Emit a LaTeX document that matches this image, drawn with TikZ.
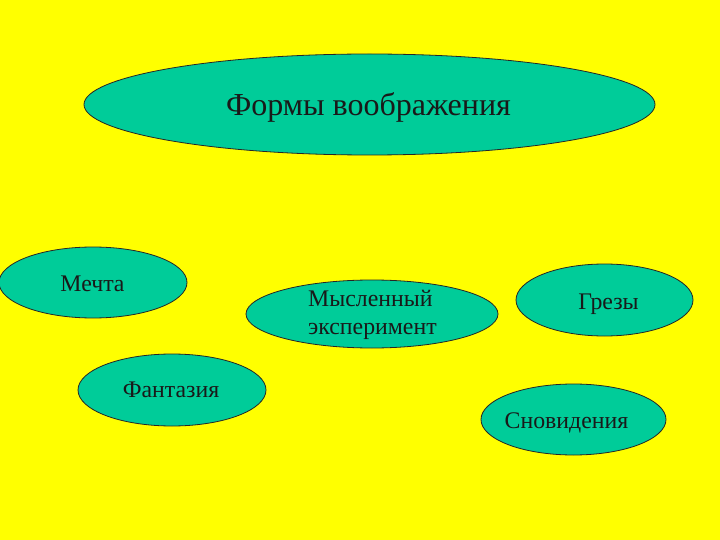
\documentclass[tikz,border=0pt]{standalone}
\usepackage{fontspec}
\setmainfont{Liberation Serif}
\usetikzlibrary{shapes.geometric}
\definecolor{bgyellow}{HTML}{FFFF00}
\definecolor{teal}{HTML}{00CC99}
\tikzset{
  oval/.style={ellipse, draw=black!85, line width=0.8pt, fill=teal, inner sep=0pt},
  lbl/.style={anchor=base, inner sep=0pt, text=black!90, font=\fontsize{23.8}{28}\selectfont},
}
\begin{document}
\begin{tikzpicture}[x=1pt,y=-1pt]
\fill[bgyellow] (0,0) rectangle (720,540);
\useasboundingbox (0,0) rectangle (720,540);
\node[oval, minimum width=571pt, minimum height=101pt] (forms) at (369.5,104.5) {};
\node[oval, minimum width=188pt, minimum height=71pt] (dream) at (93,282.5) {};
\node[oval, minimum width=252pt, minimum height=68pt] (exp) at (372,314) {};
\node[oval, minimum width=177pt, minimum height=72pt] (reverie) at (604.5,300) {};
\node[oval, minimum width=188pt, minimum height=72pt] (fantasy) at (172,390) {};
\node[oval, minimum width=185pt, minimum height=71pt] (sleep) at (573.5,419.5) {};
\node[lbl, font=\fontsize{32}{36}\selectfont] (formsT) at (368.5,116) {Формы воображения};
\node[lbl] (dreamT) at (92.5,291) {Мечта};
\node[lbl, anchor=base west] (expT1) at (308,306) {Мысленный};
\node[lbl, anchor=base west] (expT2) at (308,334) {эксперимент};
\node[lbl] (reverieT) at (608.5,309) {Грезы};
\node[lbl] (fantasyT) at (171,397) {Фантазия};
\node[lbl] (sleepT) at (566.5,428) {Сновидения};
\end{tikzpicture}
\end{document}
